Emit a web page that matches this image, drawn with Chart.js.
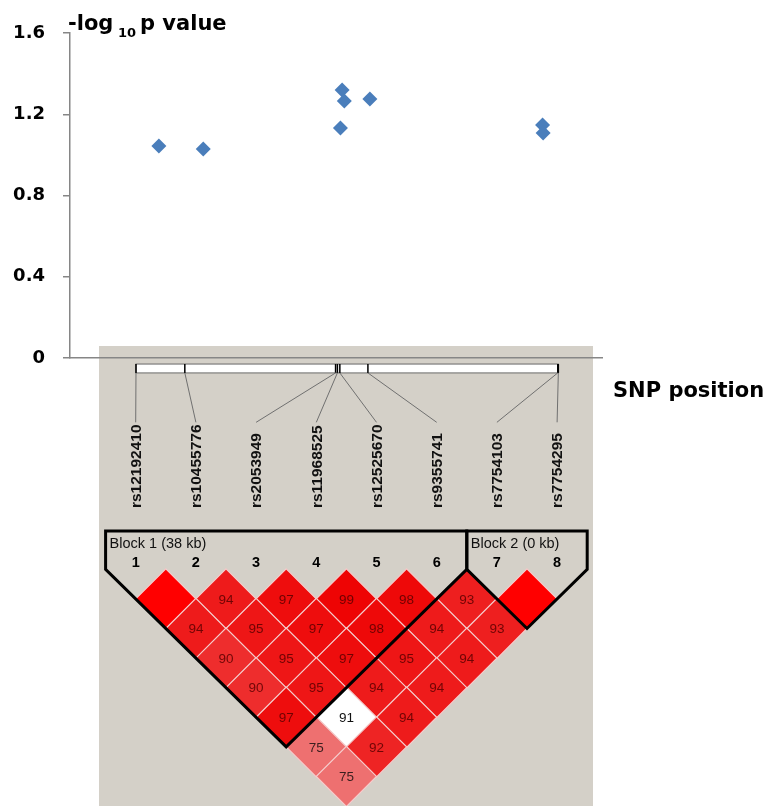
<!DOCTYPE html>
<html>
<head>
<meta charset="utf-8">
<title>SNP association and LD plot</title>
<script src="https://cdn.jsdelivr.net/npm/chart.js@4.4.1/dist/chart.umd.min.js"></script>
<style>
  body { margin: 0; background: #fff; }
  #wrap { position: relative; width: 775px; height: 806px; overflow: hidden; }
  #ldChart { position: absolute; left: 99px; top: 346px; }
  #pChart { position: absolute; left: 0; top: 0; }
</style>
</head>
<body>
<div id="wrap">
  <canvas id="ldChart" width="494" height="460"></canvas>
  <canvas id="pChart" width="775" height="420"></canvas>
</div>
<script>
const snpNames = ['rs12192410', 'rs10455776', 'rs2053949', 'rs11968525', 'rs12525670', 'rs9355741', 'rs7754103', 'rs7754295'];
const snpKb = [0, 8.0, 32.7, 33.0, 33.4, 38.0, 69.1, 69.2];
const logP = [1.044, 1.029, 1.132, 1.320, 1.265, 1.275, 1.147, 1.108];
const yTicks = ['0', '0.4', '0.8', '1.2', '1.6'];

// D' x100, row k holds the pairs (i, i+k)
const ldRow1 = [100, 94, 97, 99, 98, 93, 100];
const ldRow2 = [94, 95, 97, 98, 94, 93];
const ldRow3 = [90, 95, 97, 95, 94];
const ldRow4 = [90, 95, 94, 94];
const ldRow5 = [97, 91, 94];
const ldRow6 = [75, 92];
const ldRow7 = [75];
const ldLowLod = [[2, 7]];

const blockStart = [1, 7];
const blockEnd = [6, 8];
const blockNames = ['Block 1 (38 kb)', 'Block 2 (0 kb)'];

const ldRows = [ldRow1, ldRow2, ldRow3, ldRow4, ldRow5, ldRow6, ldRow7];
const ldPoints = [];
ldRows.forEach((row, k) => {
    row.forEach((v, i) => {
        const a = i + 1, b = i + 2 + k;
        ldPoints.push({
            x: (a + b) / 2,
            y: k + 1,
            v: v,
            weak: ldLowLod.some(p => p[0] === a && p[1] === b)
        });
    });
});

function cellColor(v, weak) {
    if (weak) return '#ffffff';
    if (v >= 100) return 'rgb(255,0,0)';
    const g = Math.round(2 * 223 * (1 - v / 100));
    return `rgb(238,${g},${g})`;
}

function line(ctx, x1, y1, x2, y2) {
    ctx.beginPath();
    ctx.moveTo(x1, y1);
    ctx.lineTo(x2, y2);
    ctx.stroke();
}

// haploview style panel: map bar, names, numbers, blocks
const ldPanel = {
    id: 'ldPanel',
    beforeDraw(chart) {
        const { ctx, width, height } = chart;
        const { x, y, kb } = chart.scales;
        ctx.save();
        ctx.fillStyle = '#d4d0c8';
        ctx.fillRect(0, 0, width, height);

        const barTop = y.getPixelForValue(-6.94);
        const barBot = y.getPixelForValue(-6.64);
        const bx0 = kb.getPixelForValue(snpKb[0]);
        const bx1 = kb.getPixelForValue(snpKb[snpKb.length - 1]);
        ctx.fillStyle = '#fff';
        ctx.fillRect(bx0, barTop, bx1 - bx0, barBot - barTop);
        ctx.strokeStyle = '#6a6a6a';
        ctx.lineWidth = 1;
        ctx.strokeRect(bx0, barTop, bx1 - bx0, barBot - barTop);

        const lineEnd = y.getPixelForValue(-4.97);
        const nameStart = y.getPixelForValue(-2.07);
        snpKb.forEach((k, i) => {
            const px = kb.getPixelForValue(k);
            const lx = x.getPixelForValue(i + 1);
            ctx.strokeStyle = '#000';
            ctx.lineWidth = 1.5;
            line(ctx, px, barTop, px, barBot);
            ctx.strokeStyle = '#707070';
            ctx.lineWidth = 1;
            line(ctx, px, barBot, lx, lineEnd);

            ctx.save();
            ctx.translate(lx, nameStart);
            ctx.rotate(-Math.PI / 2);
            ctx.fillStyle = '#111';
            ctx.font = 'bold 15.5px "Liberation Sans"';
            ctx.textAlign = 'left';
            ctx.textBaseline = 'middle';
            ctx.fillText(snpNames[i], 0, 1);
            ctx.restore();

            ctx.fillStyle = '#000';
            ctx.font = 'bold 14.5px "Liberation Sans"';
            ctx.textAlign = 'center';
            ctx.textBaseline = 'middle';
            ctx.fillText(String(i + 1), lx, y.getPixelForValue(-0.21));
        });

        ctx.fillStyle = '#111';
        ctx.font = '14.5px "Liberation Sans"';
        ctx.textAlign = 'left';
        ctx.textBaseline = 'alphabetic';
        blockNames.forEach((name, b) => {
            ctx.fillText(name, x.getPixelForValue(blockStart[b] - 0.5) + 4, y.getPixelForValue(-0.72));
        });
        ctx.restore();
    },
    afterDatasetsDraw(chart) {
        const { ctx } = chart;
        const { x, y } = chart.scales;
        ctx.save();
        ctx.font = '13.5px "Liberation Sans"';
        ctx.textAlign = 'center';
        ctx.textBaseline = 'middle';
        chart.getDatasetMeta(0).data.forEach((pt, i) => {
            const d = ldPoints[i];
            if (d.v >= 100) return;
            if (d.weak) ctx.fillStyle = '#111';
            else if (d.v < 85) ctx.fillStyle = '#3a1f1f';
            else ctx.fillStyle = 'rgba(90,0,0,0.85)';
            ctx.fillText(String(d.v), pt.x, pt.y + 1);
        });

        ctx.strokeStyle = '#000';
        ctx.lineWidth = 3;
        ctx.lineJoin = 'miter';
        blockStart.forEach((a, b) => {
            const e = blockEnd[b];
            ctx.beginPath();
            ctx.moveTo(x.getPixelForValue(a - 0.5), y.getPixelForValue(-1.3));
            ctx.lineTo(x.getPixelForValue(e + 0.5), y.getPixelForValue(-1.3));
            ctx.lineTo(x.getPixelForValue(e + 0.5), y.getPixelForValue(0));
            ctx.lineTo(x.getPixelForValue((a + e) / 2), y.getPixelForValue(e - a + 1));
            ctx.lineTo(x.getPixelForValue(a - 0.5), y.getPixelForValue(0));
            ctx.closePath();
            ctx.stroke();
        });
        ctx.restore();
    }
};

new Chart(document.getElementById('ldChart'), {
    type: 'scatter',
    data: {
        datasets: [{
            data: ldPoints,
            pointStyle: 'rectRot',
            pointRadius: c => {
                const s = c.chart.scales.x;
                return (s.getPixelForValue(1) - s.getPixelForValue(0)) / 2;
            },
            backgroundColor: c => cellColor(c.raw.v, c.raw.weak),
            borderColor: '#f5cccc',
            borderWidth: 1.2,
            clip: false
        }]
    },
    options: {
        responsive: false,
        animation: false,
        events: [],
        layout: { padding: { left: 6.6, right: 5.8, top: 0, bottom: 0 } },
        plugins: { legend: { display: false }, tooltip: { enabled: false } },
        scales: {
            x: { type: 'linear', display: false, min: 0.5, max: 8.5 },
            kb: { type: 'linear', axis: 'x', display: false, min: -4.98, max: 73.93 },
            y: { type: 'linear', display: false, reverse: true, min: -7.55, max: 8 }
        }
    },
    plugins: [ldPanel]
});

const axisTitles = {
    id: 'axisTitles',
    afterDraw(chart) {
        const { ctx, chartArea: a } = chart;
        ctx.save();
        ctx.fillStyle = '#000';
        ctx.textAlign = 'left';
        ctx.textBaseline = 'alphabetic';
        ctx.font = 'bold 21px "DejaVu Sans"';
        ctx.fillText('-log', a.left - 2, a.top - 3);
        ctx.font = 'bold 13px "DejaVu Sans"';
        ctx.fillText('10', a.left + 48, a.top + 4);
        ctx.font = 'bold 21px "DejaVu Sans"';
        ctx.fillText('p value', a.left + 70, a.top - 3);
        ctx.textBaseline = 'middle';
        ctx.fillText('SNP position', a.right + 11, a.bottom + 34);
        ctx.restore();
    }
};

new Chart(document.getElementById('pChart'), {
    type: 'scatter',
    data: {
        datasets: [{
            data: snpKb.map((k, i) => ({ x: k, y: logP[i] })),
            pointStyle: 'rectRot',
            pointRadius: 7.5,
            backgroundColor: '#4a7ebb',
            borderWidth: 0
        }]
    },
    options: {
        responsive: false,
        animation: false,
        events: [],
        layout: { padding: { top: 33, right: 173, bottom: 62, left: 0 } },
        plugins: { legend: { display: false }, tooltip: { enabled: false } },
        scales: {
            x: {
                type: 'linear',
                min: -16,
                max: 79.8,
                ticks: { display: false },
                grid: { display: false },
                border: { color: '#868686', width: 1.5 },
                afterFit: s => { s.height = 0; }
            },
            y: {
                type: 'linear',
                min: 0,
                max: 1.6,
                ticks: {
                    stepSize: 0.4,
                    padding: 18,
                    color: '#000',
                    font: { family: 'DejaVu Sans', weight: 'bold', size: 18 },
                    callback: (v, i) => yTicks[i]
                },
                grid: { drawOnChartArea: false, tickLength: 7, color: '#868686', lineWidth: 1.5 },
                border: { color: '#868686', width: 1.5 },
                afterFit: s => { s.width = 70; }
            }
        }
    },
    plugins: [axisTitles]
});
</script>
</body>
</html>
